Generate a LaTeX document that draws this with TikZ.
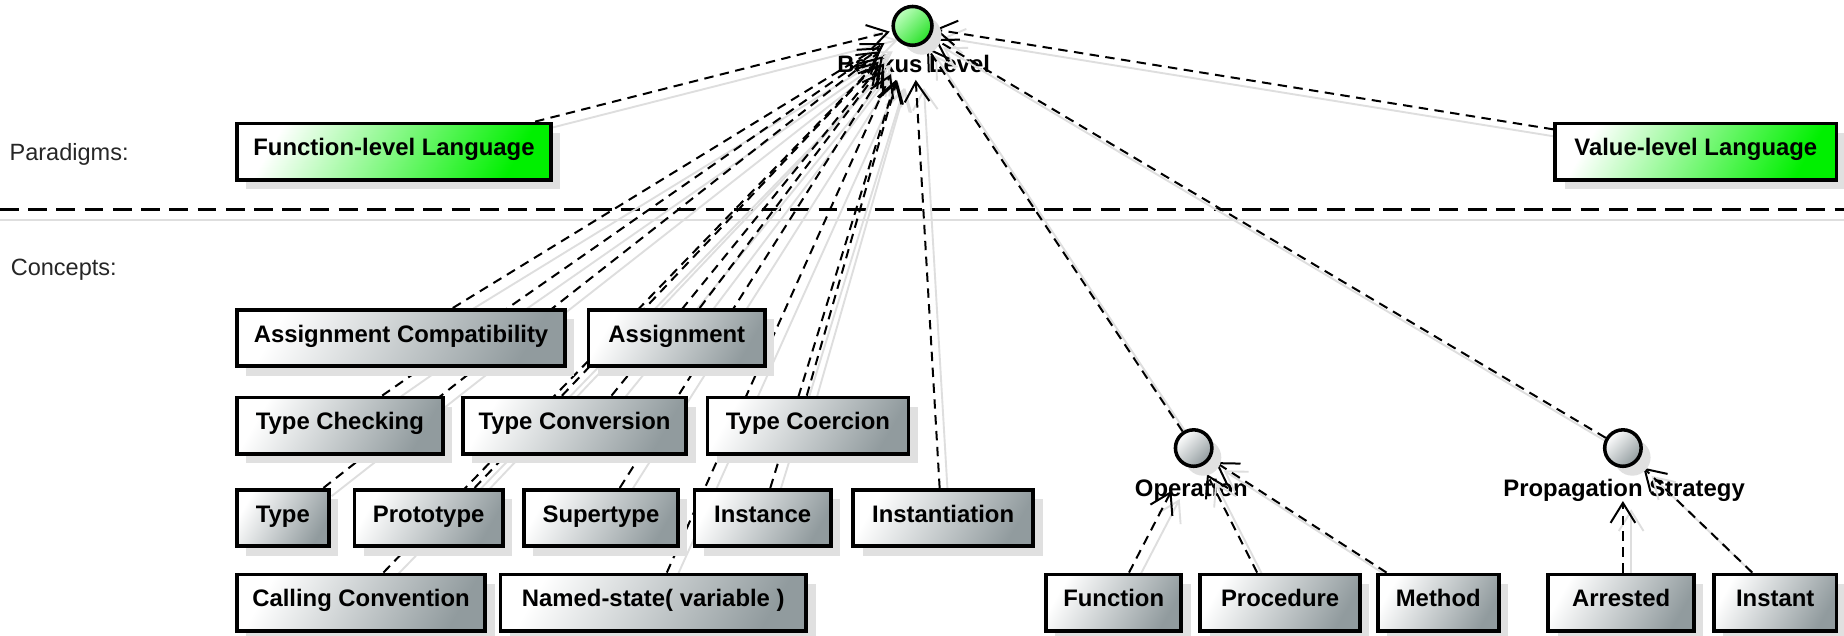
\documentclass[tikz,border=0pt]{standalone}
\usepackage{fontspec}
\setmainfont{Liberation Sans}
\usetikzlibrary{arrows.meta,shadows}
\pgfdeclarelayer{paper}
\pgfdeclarelayer{labels}
\pgfdeclarelayer{edgeshadow}
\pgfdeclarelayer{edges}
\pgfsetlayers{paper,labels,edgeshadow,edges,main}
\definecolor{boxgrey}{RGB}{145,155,158}
\definecolor{boxgreen}{RGB}{0,240,0}
\definecolor{ballgreen}{RGB}{40,225,40}
\definecolor{lineshadow}{RGB}{222,222,222}
\tikzset{
  boxshadow/.style={drop shadow={shadow xshift=8pt,shadow yshift=-8pt,fill=black!12,opacity=1}},
  cbox/.style={draw=black, line width=3.2pt, rectangle, minimum height=48pt, inner sep=0pt,
    text height=14pt, text depth=7pt, font=\fontsize{20.3}{24}\selectfont\bfseries,
    left color=white, right color=boxgrey, shading angle=60, boxshadow},
  gbox/.style={cbox, left color=white, right color=boxgreen, shading angle=60},
  iface/.style={circle, draw=black, line width=3pt, minimum size=31pt, inner sep=0pt,
    left color=white, right color=boxgrey, shading angle=45, boxshadow},
  giface/.style={iface, minimum size=33pt, left color=green!25!white, right color=ballgreen, shading angle=45},
  ilabel/.style={font=\fontsize{20.3}{24}\selectfont\bfseries, inner sep=0pt, anchor=base},
  sectlabel/.style={font=\fontsize{20}{24}\selectfont, text=black!85, inner sep=0pt, anchor=west},
  dep/.style={draw=black, line width=1.7pt, dash pattern=on 8pt off 5.5pt,
    -{Straight Barb[length=17pt,width=21pt]}},
  depsh/.style={draw=lineshadow, line width=1.6pt, -{Straight Barb[length=17pt,width=21pt]}}
}
\newcommand\depline[4]{%
  \begin{pgfonlayer}{edgeshadow}
    \draw[depsh, shorten <=#3, shorten >=#4] ([shift={(7pt,-7pt)}]#1) -- ([shift={(7pt,-7pt)}]#2);
  \end{pgfonlayer}
  \begin{pgfonlayer}{edges}
    \draw[dep, shorten <=#3, shorten >=#4] (#1) -- (#2);
  \end{pgfonlayer}
}
\begin{document}
\begin{tikzpicture}[x=1pt,y=-1pt]
\useasboundingbox (0,0) rectangle (1568,540);
\begin{pgfonlayer}{paper}
\fill[white] (0,0) rectangle (1568,540);
\end{pgfonlayer}

% section labels and separator
\node[sectlabel] (paradigms) at (8,131) {Paradigms:};
\node[sectlabel] (concepts) at (9,229) {Concepts:};
\coordinate (sepL) at (0,178);
\coordinate (sepR) at (1568,178);
\coordinate (sepshL) at (0,187);
\coordinate (sepshR) at (1568,187);
\begin{pgfonlayer}{labels}
\draw[lineshadow, line width=2pt] (sepshL) -- (sepshR);
\draw[black, line width=2pt, dash pattern=on 16pt off 8pt] (sepL) -- (sepR);
\end{pgfonlayer}

% interfaces
\node[giface] (bl) at (776,22) {};
\node[iface] (op) at (1015,381) {};
\node[iface] (ps) at (1380,381) {};
\begin{pgfonlayer}{labels}
\node[ilabel] (bllab) at (777,62) {Backus Level};
\node[ilabel] (oplab) at (1013,422) {Operation};
\node[ilabel] (pslab) at (1381,422) {Propagation Strategy};
\end{pgfonlayer}

% paradigm boxes
\node[gbox, minimum width=267pt] (fll) at (335,129) {Function-level Language};
\node[gbox, minimum width=239pt] (vll) at (1442,129) {Value-level Language};

% concept boxes
\node[cbox, minimum width=279pt] (ac) at (341,287.5) {Assignment Compatibility};
\node[cbox, minimum width=150pt] (asg) at (575.5,287.5) {Assignment};
\node[cbox, minimum width=175pt] (tch) at (289,362) {Type Checking};
\node[cbox, minimum width=190pt] (tcv) at (488.5,362) {Type Conversion};
\node[cbox, minimum width=171pt] (tco) at (687,362) {Type Coercion};
\node[cbox, minimum width=78pt] (typ) at (240.5,440.5) {Type};
\node[cbox, minimum width=126pt] (pro) at (364.5,440.5) {Prototype};
\node[cbox, minimum width=131pt] (sup) at (511,440.5) {Supertype};
\node[cbox, minimum width=116pt] (ins) at (648.5,440.5) {Instance};
\node[cbox, minimum width=153pt] (inst) at (802,440.5) {Instantiation};
\node[cbox, minimum width=211pt] (cc) at (307,512.5) {Calling Convention};
\node[cbox, minimum width=260pt] (ns) at (555.5,512.5) {Named-state( variable )};
\node[cbox, minimum width=115pt] (fun) at (947,512.5) {Function};
\node[cbox, minimum width=136pt] (prc) at (1088.5,512.5) {Procedure};
\node[cbox, minimum width=103pt] (met) at (1223,512.5) {Method};
\node[cbox, minimum width=124pt] (arr) at (1378.5,512.5) {Arrested};
\node[cbox, minimum width=104pt] (int) at (1509.5,512.5) {Instant};

% edge start points
\coordinate (s-fll) at ([xshift=120pt]fll.north);
\coordinate (s-vll) at ([yshift=19pt]vll.west);
\coordinate (s-ac) at ([xshift=44pt]ac.north);
\coordinate (s-asg) at ([xshift=19.5pt]asg.north);
\coordinate (s-tch) at ([xshift=36pt]tch.north);
\coordinate (s-tcv) at ([xshift=31.5pt]tcv.north);
\coordinate (s-tco) at ([xshift=-1pt]tco.north);
\coordinate (s-typ) at ([xshift=34.5pt]typ.north);
\coordinate (s-pro) at ([xshift=39pt]pro.north);
\coordinate (s-sup) at ([xshift=16pt]sup.north);
\coordinate (s-ins) at ([xshift=6.5pt]ins.north);
\coordinate (s-inst) at ([xshift=-3pt]inst.north);
\coordinate (s-cc) at ([xshift=19pt]cc.north);
\coordinate (s-ns) at ([xshift=11.5pt]ns.north);
\coordinate (s-fun) at ([xshift=13pt]fun.north);
\coordinate (s-prc) at ([xshift=-19.5pt]prc.north);
\coordinate (s-met) at ([xshift=-44pt]met.north);
\coordinate (s-arr) at ([xshift=1.5pt]arr.north);
\coordinate (s-int) at ([xshift=-19.5pt]int.north);

% edges to Backus Level
\depline{s-fll}{bl.center}{0pt}{20pt}
\depline{s-vll}{bl.center}{0pt}{19pt}
\depline{s-ac}{bl.center}{0pt}{28pt}
\depline{s-asg}{bl.center}{0pt}{40pt}
\depline{s-tch}{bl.center}{0pt}{32pt}
\depline{s-tcv}{bl.center}{0pt}{42pt}
\depline{s-tco}{bl.center}{0pt}{48pt}
\depline{s-typ}{bl.center}{0pt}{35pt}
\depline{s-pro}{bl.center}{0pt}{42pt}
\depline{s-sup}{bl.center}{0pt}{45pt}
\depline{s-ins}{bl.center}{0pt}{48pt}
\depline{s-inst}{bl.center}{0pt}{46pt}
\depline{s-cc}{bl.center}{0pt}{36pt}
\depline{s-ns}{bl.center}{0pt}{45pt}
\depline{op.center}{bl.center}{17pt}{22pt}
\depline{ps.center}{bl.center}{17pt}{22pt}
% edges to Operation and Propagation Strategy
\depline{s-fun}{op.center}{0pt}{41pt}
\depline{s-prc}{op.center}{0pt}{25pt}
\depline{s-met}{op.center}{0pt}{22pt}
\depline{s-arr}{ps.center}{0pt}{45pt}
\depline{s-int}{ps.center}{0pt}{24pt}
\end{tikzpicture}
\end{document}
